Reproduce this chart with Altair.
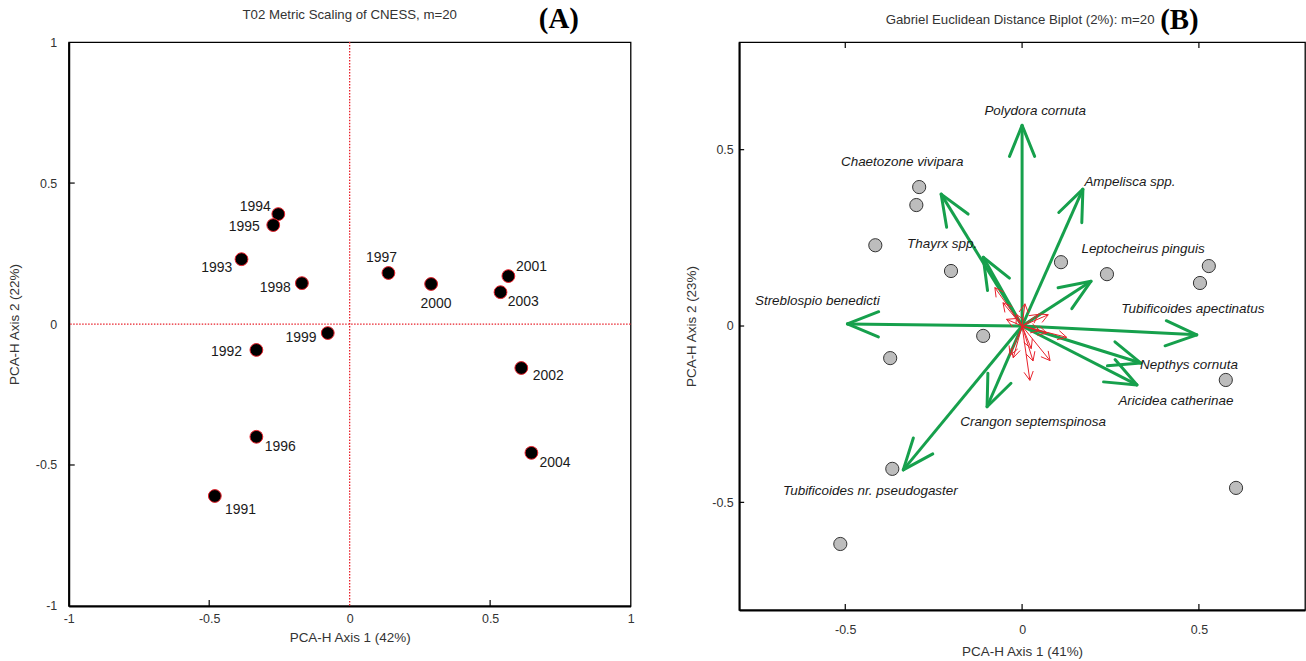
import math
import altair as alt
import pandas as pd

# ---------------- Panel A: metric scaling of CNESS (sampling years) ----------------
years = ["1991", "1992", "1993", "1994", "1995", "1996", "1997",
         "1998", "1999", "2000", "2001", "2002", "2003", "2004"]
year_pc1 = [-0.480, -0.332, -0.385, -0.254, -0.272, -0.332, 0.138,
            -0.170, -0.078, 0.290, 0.565, 0.611, 0.537, 0.647]
year_pc2 = [-0.610, -0.092, 0.230, 0.390, 0.351, -0.400, 0.181,
            0.145, -0.032, 0.142, 0.170, -0.156, 0.113, -0.457]
# where each year label sits
year_lab_x = [-0.389, -0.438, -0.473, -0.336, -0.375, -0.247, 0.113,
              -0.265, -0.173, 0.307, 0.647, 0.707, 0.618, 0.731]
year_lab_y = [-0.660, -0.099, 0.199, 0.415, 0.344, -0.436, 0.234,
              0.128, -0.050, 0.071, 0.202, -0.184, 0.078, -0.493]
a_ticks = [-1, -0.5, 0, 0.5, 1]
a_inner_ticks = [-0.5, 0.5]

# ---------------- Panel B: Gabriel Euclidean distance biplot ----------------
site_pc1 = [-0.291, -0.299, -0.415, -0.201, 0.110, 0.240, 0.528,
            0.503, -0.110, -0.373, 0.576, -0.367, 0.605, -0.514]
site_pc2 = [0.394, 0.343, 0.229, 0.156, 0.181, 0.147, 0.170,
            0.122, -0.028, -0.091, -0.153, -0.405, -0.459, -0.618]

species = ["Polydora cornuta", "Chaetozone vivipara", "Ampelisca spp.", "Thayrx spp.",
           "Leptocheirus pinguis", "Streblospio benedicti", "Tubificoides apectinatus",
           "Nepthys cornuta", "Aricidea catherinae", "Crangon septemspinosa",
           "Tubificoides nr. pseudogaster"]
species_x = [0.000, -0.229, 0.172, -0.110, 0.195, -0.494, 0.494,
             0.336, 0.325, -0.099, -0.336]
species_y = [0.569, 0.374, 0.388, 0.195, 0.127, 0.006, -0.025,
             -0.105, -0.167, -0.229, -0.408]
species_lab_x = [0.037, -0.339, 0.305, -0.226, 0.342, -0.579, 0.483,
                 0.472, 0.435, 0.031, -0.429]
species_lab_y = [0.609, 0.465, 0.408, 0.232, 0.218, 0.071, 0.048,
                 -0.110, -0.212, -0.272, -0.467]

# remaining (minor) species vectors
minor_x = [-0.077, -0.054, -0.044, 0.008, -0.016, 0.046, 0.074, 0.126,
           0.070, 0.050, 0.079, 0.031, 0.026, 0.022, -0.025, -0.034]
minor_y = [0.109, 0.066, 0.019, 0.063, 0.033, 0.033, 0.032, -0.032,
           -0.020, -0.013, -0.098, -0.099, -0.064, -0.154, -0.090, -0.083]
b_ticks = [-0.5, 0, 0.5]

FONT = "Liberation Sans Narrow, Arial Narrow, Liberation Sans, sans-serif"
SERIF = "Liberation Serif, Times New Roman, serif"
GREEN = "#16a04c"
RED = "#e8202a"
INK = "#333333"

A_W, A_H = 564, 566
B_W, B_H = 568, 570
A_DOM = [-1, 1]
B_XDOM = [-0.8, 0.8]
B_YDOM = [-0.805, 0.805]


def arrow_heads(xs, ys, length, half_angle_deg):
    """Two short segments at each vector tip, forming an open arrowhead."""
    rows = []
    a = math.radians(half_angle_deg)
    for x, y in zip(xs, ys):
        t = math.atan2(y, x)
        for s in (1, -1):
            ang = t + math.pi + s * a
            rows.append({"x": x, "y": y,
                         "x2": x + length * math.cos(ang),
                         "y2": y + length * math.sin(ang)})
    return pd.DataFrame(rows)


def make_axis(title, values, label_pad, title_pad):
    return alt.Axis(title=title, values=values, ticks=False, grid=False,
                    domain=True, domainColor="black", domainWidth=2,
                    labelExpr="datum.value + ''", labelFont=FONT, labelFontSize=12.5,
                    labelColor=INK, labelPadding=label_pad, labelFlush=False,
                    titleFont=FONT, titleFontSize=13.5, titleColor=INK,
                    titleFontWeight="normal", titlePadding=title_pad)


def channels(dom_x, dom_y, ax_x, ax_y):
    sx = alt.Scale(domain=dom_x, nice=False, zero=False)
    sy = alt.Scale(domain=dom_y, nice=False, zero=False)

    def X(field):
        return alt.X(field, type="quantitative", scale=sx, axis=ax_x)

    def Y(field):
        return alt.Y(field, type="quantitative", scale=sy, axis=ax_y)
    return X, Y


def caption(text, x, y, **style):
    return alt.Chart(pd.DataFrame({"t": [text]})).mark_text(**style).encode(
        text="t:N", x=alt.value(x), y=alt.value(y))


# ---------------- Panel A layers ----------------
AX, AY = channels(A_DOM, A_DOM,
                  make_axis("PCA-H Axis 1 (42%)", a_ticks, 7, 5),
                  make_axis("PCA-H Axis 2 (22%)", a_ticks, 12, 14))
years_df = pd.DataFrame({"year": years, "pc1": year_pc1, "pc2": year_pc2,
                         "lx": year_lab_x, "ly": year_lab_y})
zero_df = pd.DataFrame({"v": [0]})
a_tick_df = pd.DataFrame({"v": a_inner_ticks})

a_zero_v = alt.Chart(zero_df).mark_rule(color=RED, strokeWidth=1.3, strokeDash=[1.5, 1.5]).encode(
    x=AX("v"))
a_zero_h = alt.Chart(zero_df).mark_rule(color=RED, strokeWidth=1.3, strokeDash=[1.5, 1.5]).encode(
    y=AY("v"))
a_ticks_b = alt.Chart(a_tick_df).mark_rule(color="black", strokeWidth=1.2).encode(
    x=AX("v"), y=alt.value(A_H), y2=alt.value(A_H - 6))
a_ticks_l = alt.Chart(a_tick_df).mark_rule(color="black", strokeWidth=1.2).encode(
    y=AY("v"), x=alt.value(0), x2=alt.value(6))
a_points = alt.Chart(years_df).mark_circle(size=165, opacity=1, fill="black", stroke=RED,
                                           strokeWidth=1).encode(x=AX("pc1"), y=AY("pc2"))
a_labels = alt.Chart(years_df).mark_text(font=FONT, fontSize=14, color="#1a1a1a").encode(
    x=AX("lx"), y=AY("ly"), text="year:N")
a_title = caption("T02 Metric Scaling of CNESS, m=20", A_W / 2, -27,
                  font=FONT, fontSize=13.3, color=INK)
a_tag = caption("(A)", 492, -23, font=SERIF, fontSize=29, fontWeight="bold", color="black")

panel_a = alt.layer(a_zero_v, a_zero_h, a_ticks_b, a_ticks_l, a_points, a_labels,
                    a_title, a_tag).properties(width=A_W, height=A_H)

# ---------------- Panel B layers ----------------
BX, BY = channels(B_XDOM, B_YDOM,
                  make_axis("PCA-H Axis  1 (41%)", b_ticks, 14, 8),
                  make_axis("PCA-H Axis  2 (23%)", b_ticks, 6, 13))
sites_df = pd.DataFrame({"pc1": site_pc1, "pc2": site_pc2})
sp_df = pd.DataFrame({"name": species, "x": species_x, "y": species_y,
                      "lx": species_lab_x, "ly": species_lab_y, "x0": 0.0, "y0": 0.0})
minor_df = pd.DataFrame({"x": minor_x, "y": minor_y, "x0": 0.0, "y0": 0.0})
sp_heads = arrow_heads(species_x, species_y, 0.095, 22)
minor_heads = arrow_heads(minor_x, minor_y, 0.028, 28)
b_tick_df = pd.DataFrame({"v": b_ticks})

b_ticks_bottom = alt.Chart(b_tick_df).mark_rule(color="black", strokeWidth=1.2).encode(
    x=BX("v"), y=alt.value(B_H), y2=alt.value(B_H - 6))
b_ticks_top = alt.Chart(b_tick_df).mark_rule(color="black", strokeWidth=1.2).encode(
    x=BX("v"), y=alt.value(0), y2=alt.value(6))
b_ticks_left = alt.Chart(b_tick_df).mark_rule(color="black", strokeWidth=1.2).encode(
    y=BY("v"), x=alt.value(0), x2=alt.value(5))
b_sites = alt.Chart(sites_df).mark_circle(size=175, opacity=1, fill="#bdbdbd", stroke="#333333",
                                          strokeWidth=1).encode(x=BX("pc1"), y=BY("pc2"))
b_major = alt.Chart(sp_df).mark_rule(color=GREEN, strokeWidth=3).encode(
    x=BX("x0"), y=BY("y0"), x2="x", y2="y")
b_major_heads = alt.Chart(sp_heads).mark_rule(color=GREEN, strokeWidth=3, strokeCap="round").encode(
    x=BX("x"), y=BY("y"), x2="x2", y2="y2")
b_minor = alt.Chart(minor_df).mark_rule(color=RED, strokeWidth=1).encode(
    x=BX("x0"), y=BY("y0"), x2="x", y2="y")
b_minor_heads = alt.Chart(minor_heads).mark_rule(color=RED, strokeWidth=1).encode(
    x=BX("x"), y=BY("y"), x2="x2", y2="y2")
b_labels = alt.Chart(sp_df).mark_text(font=FONT, fontSize=13.5, fontStyle="italic",
                                      color="#1a1a1a").encode(
    x=BX("lx"), y=BY("ly"), text="name:N")
b_title = caption("Gabriel Euclidean Distance Biplot (2%): m=20", 282, -22,
                  font=FONT, fontSize=13.3, color=INK)
b_tag = caption("(B)", 442, -22, font=SERIF, fontSize=29, fontWeight="bold", color="black")

panel_b = alt.layer(b_ticks_bottom, b_ticks_top, b_ticks_left, b_sites, b_major, b_major_heads,
                    b_minor, b_minor_heads, b_labels, b_title, b_tag).properties(
    width=B_W, height=B_H)

chart = alt.hconcat(panel_a, panel_b, spacing=48).properties(
    padding={"left": 6, "top": 3, "right": 0, "bottom": 0},
    background="white",
).configure_view(stroke="black", strokeWidth=1.3)

chart.save("out.html", embed_options={"renderer": "svg", "actions": False})
